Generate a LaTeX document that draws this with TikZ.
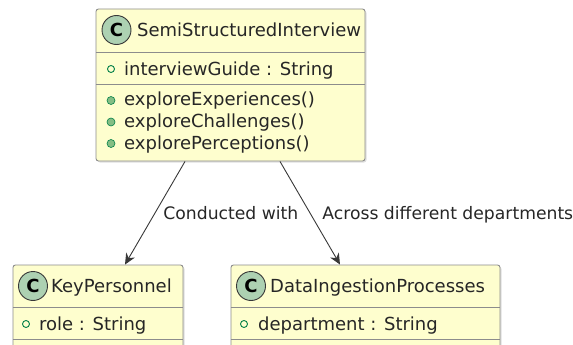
\documentclass[tikz,border=0pt]{standalone}
\usepackage{fontspec}
\setmainfont{DejaVu Sans}
\definecolor{umlfill}{HTML}{FEFECE}
\definecolor{umlline}{HTML}{8C8C8C}
\definecolor{umldark}{HTML}{383838}
\definecolor{umlcirc}{HTML}{ADD1B2}
\definecolor{umlvis}{HTML}{038048}
\definecolor{umlvisfill}{HTML}{84BE84}
\usetikzlibrary{arrows.meta,positioning,calc,shadows}

\begin{document}
\begin{tikzpicture}[x=1pt,y=-1pt,
  classbox/.style={draw=umlline,fill=umlfill,rounded corners=2.5pt,line width=0.9pt,
    inner sep=0pt,drop shadow={shadow xshift=1.5pt,shadow yshift=-1.5pt,opacity=.25}},
  classsep/.style={draw=umlline,line width=0.9pt},
  classicon/.style={circle,draw=umldark,fill=umlcirc,line width=0.9pt,minimum size=29pt,
    inner sep=0pt,font=\fontsize{18}{18}\selectfont\bfseries},
  classname/.style={anchor=base west,inner sep=0pt,font=\fontsize{18}{21}\selectfont,text=black!85},
  member/.style={anchor=base west,inner sep=0pt,font=\fontsize{18}{21}\selectfont,text=black!85},
  fielddot/.style={circle,draw=umlvis,line width=0.9pt,minimum size=7pt,inner sep=0pt},
  methoddot/.style={circle,draw=umlvis,fill=umlvisfill,line width=0.6pt,minimum size=8pt,inner sep=0pt},
  assoc/.style={draw=umldark,line width=0.9pt,-{Stealth[length=11pt,width=10pt,inset=3.5pt]}},
  elabel/.style={anchor=base west,inner sep=0pt,font=\fontsize{17.2}{19}\selectfont,text=black!85}
]
  \useasboundingbox (0,0) rectangle (573,345);
  \clip (0,0) rectangle (573,345);

  % SemiStructuredInterview
  \node[classbox,minimum width=269pt,minimum height=152pt] (iv) at (230.5,85) {};
  \draw[classsep] (iv.west |- 0,52) -- (iv.east |- 0,52);
  \draw[classsep] (iv.west |- 0,84) -- (iv.east |- 0,84);
  \node[classicon] (ivicon) at (116.5,30) {C};
  \node[classname] (ivname) at (137,37) {SemiStructuredInterview};
  \node[fielddot] (ivdot) at (111,69) {};
  \node[member] (ivattr) at (124,75) {interviewGuide : String};
  \node[methoddot] (ivdota) at (111,100.5) {};
  \node[member] (ivopa) at (124,106) {exploreExperiences()};
  \node[methoddot] (ivdotb) at (111,122) {};
  \node[member] (ivopb) at (124,127.5) {exploreChallenges()};
  \node[methoddot] (ivdotc) at (111,143.5) {};
  \node[member] (ivopc) at (124,149) {explorePerceptions()};

  % KeyPersonnel
  \node[classbox,minimum width=170pt,minimum height=100pt] (kp) at (98,315) {};
  \draw[classsep] (kp.west |- 0,307) -- (kp.east |- 0,307);
  \draw[classsep] (kp.west |- 0,339) -- (kp.east |- 0,339);
  \node[classicon] (kpicon) at (33,286) {C};
  \node[classname] (kpname) at (51,292) {KeyPersonnel};
  \node[fielddot] (kpdot) at (26,324) {};
  \node[member] (kpattr) at (39,330) {role : String};

  % DataIngestionProcesses
  \node[classbox,minimum width=269pt,minimum height=100pt] (dip) at (365.5,315) {};
  \draw[classsep] (dip.west |- 0,307) -- (dip.east |- 0,307);
  \draw[classsep] (dip.west |- 0,339) -- (dip.east |- 0,339);
  \node[classicon] (dipicon) at (251,286) {C};
  \node[classname] (dipname) at (270,292) {DataIngestionProcesses};
  \node[fielddot] (dipdot) at (244,324) {};
  \node[member] (dipattr) at (258,330) {department : String};

  % associations
  \draw[assoc] ([xshift=-45.5pt]iv.south) -- node[elabel,xshift=8pt,yshift=-6pt] (lconducted) {Conducted with} ([xshift=27pt]kp.north);
  \draw[assoc] ([xshift=49.5pt]iv.south) -- node[elabel,xshift=12pt,yshift=-6pt] (lacross) {Across different departments} ([xshift=-25.5pt]dip.north);
\end{tikzpicture}
\end{document}
